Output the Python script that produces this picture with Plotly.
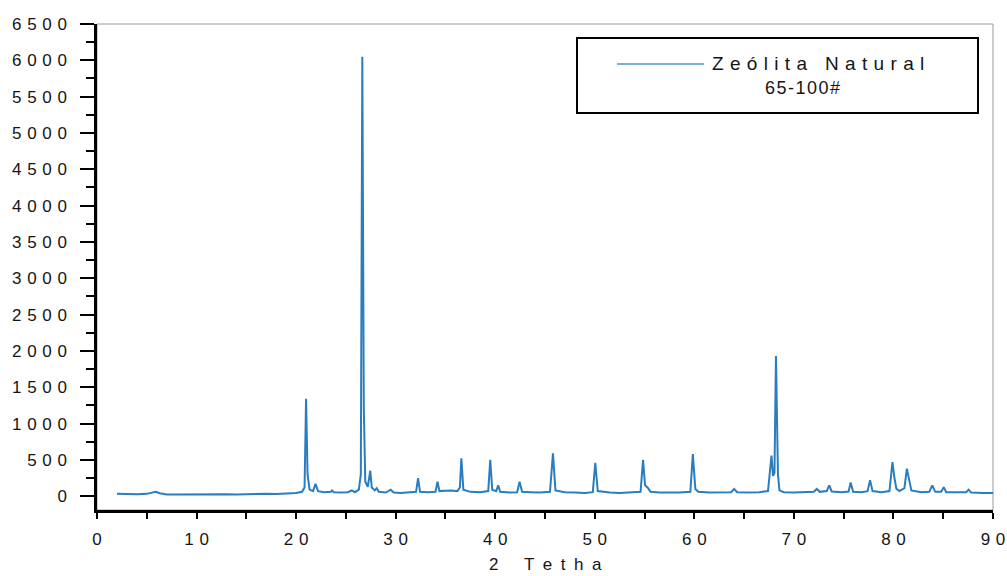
import plotly.graph_objects as go

# ---- data (polyline vertices of the XRD trace) ----
two_theta = [
    2.0, 3.0, 4.0, 5.0, 5.6, 5.9, 6.3, 7.0, 8.0, 9.0, 10.0, 11.0, 12.0, 13.0, 14.0,
    15.0, 16.0, 17.0, 18.0, 19.0, 20.0, 20.6, 20.85, 21.0, 21.15, 21.35, 21.7, 21.95,
    22.2, 22.8, 23.5, 23.6, 23.8, 24.5, 25.2, 25.6, 25.9, 26.3, 26.5, 26.65, 26.8,
    26.95, 27.2, 27.45, 27.6, 27.9, 28.1, 28.3, 29.0, 29.5, 29.8, 30.5, 31.5, 32.05,
    32.25, 32.45, 33.3, 34.0, 34.2, 34.4, 35.0, 35.5, 36.2, 36.45, 36.6, 36.8, 37.5,
    38.5, 39.3, 39.5, 39.7, 40.1, 40.3, 40.5, 41.5, 42.2, 42.45, 42.7, 43.5, 44.5,
    45.5, 45.8, 46.05, 47.0, 48.0, 49.0, 49.8, 50.05, 50.3, 51.5, 52.5, 53.5, 54.6,
    54.85, 55.05, 55.3, 55.6, 56.5, 57.5, 58.5, 59.6, 59.85, 60.1, 60.4, 61.5, 62.5,
    63.7, 64.0, 64.3, 65.5, 66.5, 67.4, 67.75, 67.9, 68.05, 68.2, 68.4, 68.55, 69.0,
    70.0, 71.0, 72.0, 72.3, 72.6, 73.3, 73.55, 73.8, 74.8, 75.5, 75.7, 75.95, 76.8,
    77.4, 77.65, 77.9, 78.8, 79.6, 79.9, 80.1, 80.3, 80.6, 81.1, 81.35, 81.55, 81.8,
    82.8, 83.6, 83.9, 84.2, 84.8, 85.05, 85.3, 86.5, 87.3, 87.55, 87.8, 89.0, 90.0,
]
intensity = [
    35, 30, 28, 32, 50, 60, 40, 25, 22, 25, 22, 25, 24, 28, 25,
    30, 28, 32, 30, 35, 45, 60, 120, 1340, 300, 90, 70, 170,
    70, 55, 60, 80, 55, 50, 55, 80, 55, 90, 300, 6050, 1200,
    200, 130, 350, 120, 80, 110, 60, 50, 90, 50, 45, 50, 60,
    250, 60, 55, 60, 200, 70, 75, 80, 70, 120, 520, 90, 60,
    55, 70, 500, 90, 70, 150, 60, 50, 55, 200, 60, 55, 50,
    60, 590, 80, 55, 50, 45, 55, 460, 70, 50, 45, 50, 60,
    500, 150, 120, 60, 50, 45, 50, 60, 580, 100, 60, 50, 55,
    55, 100, 55, 50, 55, 70, 560, 280, 320, 1930, 300, 80, 55,
    50, 55, 60, 100, 60, 70, 150, 65, 55, 65, 190, 60, 55,
    70, 220, 70, 55, 70, 470, 250, 100, 70, 110, 380, 230, 80,
    55, 60, 150, 60, 60, 125, 55, 50, 55, 90, 50, 45, 45,
]

series_name = "Zeólita Natural"
series_sub = "65-100#"
x_title = "2 Tetha"
x_ticks = [0, 10, 20, 30, 40, 50, 60, 70, 80, 90]
y_ticks = [0, 500, 1000, 1500, 2000, 2500, 3000, 3500, 4000, 4500, 5000, 5500, 6000, 6500]

SP = "\u2004"  # three-per-em space, to mimic the wide letter spacing
EN = "\u2002"


def spaced(s, sep=SP):
    return sep.join(list(s))


LINE_COLOR = "#2a7dbf"
TEXT_COLOR = "#151515"
FONT = "Liberation Sans, Arial, sans-serif"

fig = go.Figure()
fig.add_trace(go.Scatter(
    x=two_theta, y=intensity, mode="lines", name=series_name,
    line=dict(color=LINE_COLOR, width=2), showlegend=False,
))

fig.update_layout(
    width=1007, height=576,
    margin=dict(l=97, r=14, t=24, b=66, autoexpand=False),
    plot_bgcolor="white", paper_bgcolor="white",
    font=dict(family=FONT, color=TEXT_COLOR, size=17),
    showlegend=False,
)

title_parts = x_title.split(" ")
title_text = EN.join([EN.join(list(title_parts[0])), EN, EN.join(list(title_parts[1]))])

fig.update_xaxes(
    range=[0, 90], tickmode="array", tickvals=x_ticks,
    ticktext=[spaced(str(v)) for v in x_ticks],
    ticks="outside", ticklen=6, tickwidth=2, tickcolor="black",
    showline=True, linewidth=2.5, linecolor="black",
    showgrid=False, zeroline=False, automargin=False,
    tickfont=dict(size=17, family=FONT, color=TEXT_COLOR),
    ticklabelstandoff=6,
    minor=dict(tickmode="array", tickvals=[v + 5 for v in x_ticks[:-1]],
               ticks="outside", ticklen=6, tickwidth=2, tickcolor="black", showgrid=False),
)

fig.update_yaxes(
    range=[-190, 6500], tickmode="array", tickvals=y_ticks,
    ticktext=[spaced(str(v)) for v in y_ticks],
    ticks="outside", ticklen=14, tickwidth=2, tickcolor="black",
    showline=True, linewidth=2.5, linecolor="black",
    showgrid=False, zeroline=False, automargin=False,
    tickfont=dict(size=17, family=FONT, color=TEXT_COLOR),
    ticklabelstandoff=10,
    minor=dict(tickmode="array", tickvals=[v + 250 for v in y_ticks[:-1]],
               ticks="outside", ticklen=8, tickwidth=2, tickcolor="black", showgrid=False),
)

# thin gray frame on the top and right sides
fig.add_shape(type="rect", xref="paper", yref="paper", x0=0, x1=1, y0=0, y1=1,
              line=dict(color="#9a9a9a", width=1), layer="below")

W, H = 896.0, 486.0
def px_x(p):
    return (p - 97) / W
def px_y(p):
    return (510 - p) / H

# x-axis title
fig.add_annotation(xref="paper", yref="paper", x=px_x(545), y=px_y(564),
                   xanchor="center", yanchor="middle", showarrow=False,
                   text=title_text, font=dict(size=17, family=FONT, color=TEXT_COLOR))

# legend box (drawn manually to match the long sample line)
fig.add_shape(type="rect", xref="paper", yref="paper",
              x0=px_x(577), x1=px_x(978), y0=px_y(113), y1=px_y(38),
              line=dict(color="black", width=2), fillcolor="white", layer="above")
fig.add_shape(type="line", xref="paper", yref="paper",
              x0=px_x(617), x1=px_x(704), y0=px_y(64), y1=px_y(64),
              line=dict(color="#4f94c8", width=1.5), layer="above")
fig.add_annotation(xref="paper", yref="paper", x=px_x(710), y=px_y(64),
                   xanchor="left", yanchor="middle", showarrow=False,
                   text=spaced(series_name), font=dict(size=19, family=FONT, color=TEXT_COLOR))
fig.add_annotation(xref="paper", yref="paper", x=px_x(763), y=px_y(88),
                   xanchor="left", yanchor="middle", showarrow=False,
                   text=spaced(series_sub, "\u200a"), font=dict(size=18, family=FONT, color=TEXT_COLOR))

fig.write_html("out.html")
